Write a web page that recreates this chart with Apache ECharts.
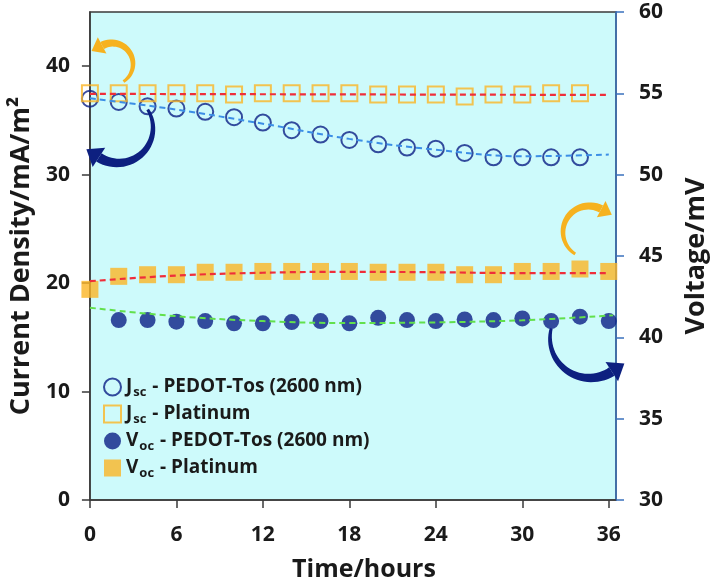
<!DOCTYPE html>
<html>
<head>
<meta charset="utf-8">
<script src="https://cdn.jsdelivr.net/npm/echarts@6/dist/echarts.min.js"></script>
<style>
html,body{margin:0;padding:0;background:#fff;}
#c{width:718px;height:587px;}
</style>
</head>
<body>
<div id="c"></div>
<script>
// ---- data ----
const timeHours = [0,2,4,6,8,10,12,14,16,18,20,22,24,26,28,30,32,34];
const jscPedot = [37.0,36.7,36.3,36.1,35.8,35.3,34.8,34.1,33.7,33.2,32.8,32.5,32.4,32.0,31.6,31.6,31.6,31.6];
const jscPlatinum = [37.5,37.5,37.5,37.5,37.5,37.4,37.5,37.5,37.5,37.5,37.4,37.4,37.4,37.2,37.4,37.4,37.5,37.5];
const vocTime = [0,2,4,6,8,10,12,14,16,18,20,22,24,26,28,30,32,34,36];
const vocPedot = [null,41.06,41.06,40.96,41.0,40.86,40.86,40.94,41.0,40.86,41.2,41.06,41.0,41.1,41.06,41.16,41.0,41.27,41.0];
const vocPlatinum = [42.95,43.75,43.85,43.85,44.0,44.0,44.05,44.05,44.05,44.05,44.0,44.0,44.0,43.85,43.85,44.05,44.05,44.2,44.05];
// trend (fit) lines
const jscPedotTrend = [[0,37.05],[6,36.0],[12,34.7],[18,33.3],[24,32.3],[30,31.7],[36,31.85]];
const jscPlatinumTrend = [[0,37.45],[36,37.35]];
const vocPedotTrend = [[0,41.82],[6,41.3],[12,41.0],[18,40.88],[24,40.92],[30,41.05],[36.3,41.35]];
const vocPlatinumTrend = [[0,43.45],[6,43.8],[12,43.97],[18,44.03],[24,44.0],[30,43.95],[36,43.95]];
const xTicks = [0,6,12,18,24,30,36];
const yLeftTicks = [0,10,20,30,40];

const FONT = '"Open Sans", Lato, sans-serif';
const TXT = '#1a1a1a';
const navy = '#0b1f86', orange = '#fbb526', red = '#ef2e3a', blue = '#3b8ee6', green = '#62e04c';

function pair(xs, ys){ return xs.map((x,i)=>[x, ys[i]]); }

// curved arrow decoration (tapered crescent + head)
function arrow(cx, cy, r, a0, a1, color, w0, w1){
  const n = 30, outer = [], inner = [];
  const rad = d => d*Math.PI/180;
  for(let i=0;i<=n;i++){
    const t=i/n, a=rad(a0+(a1-a0)*t), w=(w0+(w1-w0)*t)/2;
    outer.push([cx+(r+w)*Math.cos(a), cy+(r+w)*Math.sin(a)]);
    inner.push([cx+(r-w)*Math.cos(a), cy+(r-w)*Math.sin(a)]);
  }
  const body = outer.concat(inner.reverse());
  const ae = rad(a1), dir = a1>a0 ? 1 : -1;
  const px = cx+r*Math.cos(ae), py = cy+r*Math.sin(ae);
  const tx = -Math.sin(ae)*dir, ty = Math.cos(ae)*dir;
  const nx = Math.cos(ae), ny = Math.sin(ae);
  const hw = w1*1.15, hl = w1*1.5;
  const head = [[px+nx*hw, py+ny*hw],[px+tx*hl, py+ty*hl],[px-nx*hw, py-ny*hw]];
  return [
    {type:'polygon', shape:{points:body}, style:{fill:color}, z:100},
    {type:'polygon', shape:{points:head}, style:{fill:color}, z:100}
  ];
}

const chart = echarts.init(document.getElementById('c'), null, {renderer:'canvas'});
const main = {fontSize:19, fontWeight:'bold', fontFamily:FONT, color:TXT, lineHeight:22};
const sub = {fontSize:13, fontWeight:'bold', fontFamily:FONT, color:TXT, lineHeight:22, verticalAlign:'top', padding:[10,1,0,1]};

const option = {
  animation:false,
  backgroundColor:'#ffffff',
  grid:{left:84, right:93, top:12, bottom:86, show:true, backgroundColor:'#cdfafb', borderColor:'#3a3a3a', borderWidth:1.5},
  legend:{
    orient:'vertical', left:103, top:376, itemWidth:17, itemHeight:17, itemGap:4, padding:0,
    data:['jp','jpt','vp','vpt'],
    formatter:function(n){
      if(n==='jp') return '{m|J}{s|sc}{m| - PEDOT-Tos (2600 nm)}';
      if(n==='jpt') return '{m|J}{s|sc}{m| - Platinum}';
      if(n==='vp') return '{m|V}{s|oc}{m| - PEDOT-Tos (2600 nm)}';
      return '{m|V}{s|oc}{m| - Platinum}';
    },
    textStyle:{rich:{m:main, s:sub}}
  },
  xAxis:{
    type:'value', min:0, max:36.5,
    name:'Time/hours', nameLocation:'middle', nameGap:57,
    nameTextStyle:{fontSize:25, fontWeight:'bold', fontFamily:FONT, color:TXT, padding:[0,0,0,22]},
    axisLine:{show:true, onZero:false, lineStyle:{color:'#3a3a3a', width:1.5}},
    axisTick:{show:true, inside:false, length:8, customValues:xTicks, lineStyle:{color:'#3a3a3a', width:1.5}},
    axisLabel:{customValues:xTicks, margin:25, fontSize:21, fontWeight:'bold', fontFamily:FONT, color:TXT},
    splitLine:{show:false}
  },
  yAxis:[
    {
      type:'value', min:0, max:45, position:'left',
      name:'Current Density/mA/m²', nameLocation:'middle', nameGap:54,
      nameTextStyle:{fontSize:27, fontWeight:'bold', fontFamily:FONT, color:TXT},
      axisLine:{show:true, lineStyle:{color:'#3a3a3a', width:1.5}},
      axisTick:{show:true, length:8, customValues:yLeftTicks, lineStyle:{color:'#3a3a3a', width:1.5}},
      axisLabel:{customValues:yLeftTicks, margin:20, fontSize:21, fontWeight:'bold', fontFamily:FONT, color:TXT},
      splitLine:{show:false}
    },
    {
      type:'value', min:30, max:60, interval:5, position:'right',
      name:'Voltage/mV', nameLocation:'middle', nameGap:67,
      nameTextStyle:{fontSize:27, fontWeight:'bold', fontFamily:FONT, color:TXT},
      axisLine:{show:true, lineStyle:{color:'#3a72bd', width:1.5}},
      axisTick:{show:true, length:8, lineStyle:{color:'#3a72bd', width:1.5}},
      axisLabel:{margin:23, fontSize:21, fontWeight:'bold', fontFamily:FONT, color:TXT},
      splitLine:{show:false}
    }
  ],
  series:[
    {name:'jp', type:'scatter', yAxisIndex:0, data:pair(timeHours, jscPedot), symbol:'circle', symbolSize:16,
     itemStyle:{color:'rgba(0,0,0,0)', borderColor:navy, borderWidth:2}, z:3},
    {name:'jpt', type:'scatter', yAxisIndex:0, data:pair(timeHours, jscPlatinum), symbol:'rect', symbolSize:16,
     itemStyle:{color:'rgba(0,0,0,0)', borderColor:orange, borderWidth:2}, z:3},
    {name:'vp', type:'scatter', yAxisIndex:1, data:pair(vocTime, vocPedot).filter(p=>p[1]!==null), symbol:'circle', symbolSize:16,
     itemStyle:{color:navy}, z:3},
    {name:'vpt', type:'scatter', yAxisIndex:1, data:pair(vocTime, vocPlatinum), symbol:'rect', symbolSize:17,
     itemStyle:{color:orange}, z:3},
    {name:'t1', type:'line', yAxisIndex:0, data:jscPedotTrend, smooth:0.4, showSymbol:false, symbol:'none',
     lineStyle:{color:blue, width:2, type:[6,4]}, z:5, silent:true},
    {name:'t2', type:'line', yAxisIndex:0, data:jscPlatinumTrend, showSymbol:false, symbol:'none',
     lineStyle:{color:red, width:2.2, type:[6,4]}, z:5, silent:true},
    {name:'t3', type:'line', yAxisIndex:1, data:vocPedotTrend, smooth:0.4, showSymbol:false, symbol:'none',
     lineStyle:{color:green, width:2, type:[6,4]}, z:5, silent:true},
    {name:'t4', type:'line', yAxisIndex:1, data:vocPlatinumTrend, smooth:0.4, showSymbol:false, symbol:'none',
     lineStyle:{color:red, width:2.2, type:[6,4]}, z:5, silent:true}
  ],
  graphic:[]
    .concat(arrow(112,64,21,57,-118,'#f6b21f',3,8))
    .concat(arrow(118,128,35,-32,123,'#0d2080',3,10))
    .concat(arrow(589,232,26,122,298,'#f6b21f',3,8))
    .concat(arrow(590,338,40,194,57,'#0d2080',3,10))
};
chart.setOption(option);
</script>
</body>
</html>
